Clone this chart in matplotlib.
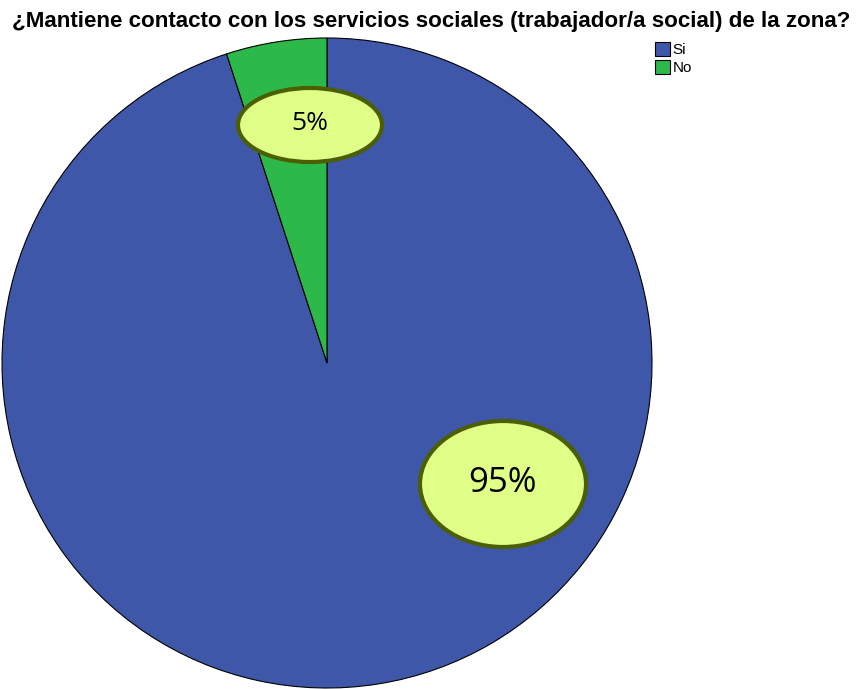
import matplotlib
matplotlib.use('Agg')
import matplotlib.pyplot as plt
from matplotlib.patches import Ellipse

# data
labels = ['Si', 'No']
values = [95, 5]
pct_text = ['95%', '5%']
colors = ['#3e57a9', '#2db84a']

W, H = 858, 689
fig = plt.figure(figsize=(W / 100, H / 100), dpi=100)
ax = fig.add_axes([0, 0, 1, 1])

cx, cy, r = 327, H - 363, 325
wedges, _ = ax.pie(values, colors=colors, startangle=90, counterclock=False,
                   center=(cx, cy), radius=r,
                   wedgeprops=dict(edgecolor='black', linewidth=0.8))
ax.set_xlim(0, W)
ax.set_ylim(0, H)
ax.set_aspect('equal')
ax.axis('off')

# label bubbles (Si, No)
bubbles = [((503, H - 484), 166, 126, 25), ((310, H - 125), 144, 74, 19)]
for (pos, w, h, fs), txt in zip(bubbles, pct_text):
    ax.add_patch(Ellipse(pos, w, h, facecolor='#e0ff86', edgecolor='#4b5f00',
                         linewidth=3, zorder=5))
    ax.text(pos[0], pos[1] + 1, txt, ha='center', va='center', fontsize=fs,
            family='Open Sans', zorder=6)

fig.text(12 / W, 1 - 21 / H,
         '¿Mantiene contacto con los servicios sociales (trabajador/a social) de la zona?',
         ha='left', va='center', fontsize=16.1, fontweight='bold',
         family='Liberation Sans')

leg = ax.legend(wedges, labels, loc='upper left',
                bbox_to_anchor=(655 / W, 1 - 42 / H), frameon=False,
                prop=dict(family='Liberation Sans', size=11),
                handlelength=1.0, handleheight=1.0, handletextpad=0.15,
                labelspacing=0.2, borderpad=0, borderaxespad=0)

fig.savefig('out.png', dpi=100)
